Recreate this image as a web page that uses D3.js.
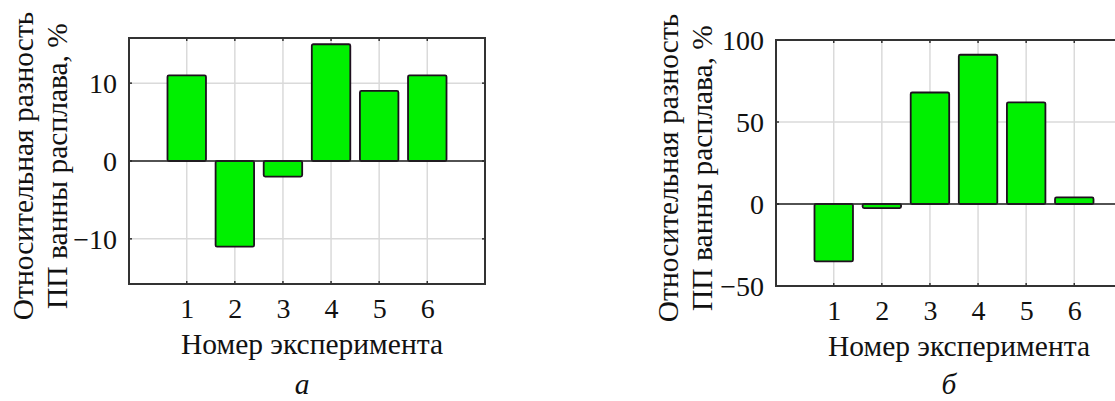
<!DOCTYPE html>
<html>
<head>
<meta charset="utf-8">
<script src="https://cdn.jsdelivr.net/npm/d3@7"></script>
<style>
  body { margin: 0; background: #fff; }
  svg text { font-family: "Liberation Serif", "DejaVu Serif", "Times New Roman", serif; }
</style>
</head>
<body>
<svg id="chart" width="1115" height="401"></svg>
<script>
"use strict";

var experiments = [1, 2, 3, 4, 5, 6];
var valuesA = [11, -11, -2, 15, 9, 11];
var valuesB = [-35, -2.5, 68, 91, 62, 4];
var ticksA = [-10, 0, 10];
var ticksB = [-50, 0, 50, 100];
var yLabelLines = ["Относительная разность", "ПП ванны расплава, %"];
var xLabel = "Номер эксперимента";
var panelLetters = ["а", "б"];

var svg = d3.select("#chart");
var tickFont = 28;
var titleFont = 29.5;

function drawPanel(opt) {
  var g = svg.append("g")
    .attr("transform", "translate(" + opt.left + "," + opt.top + ")");

  var w = opt.width, h = opt.height;

  var x = d3.scaleLinear().domain([-0.2, 7.2]).range([0, w]);
  var y = d3.scaleLinear().domain(opt.yDomain).range([h, 0]);
  var barW = x(0.8) - x(0);

  // grid
  g.append("g")
    .selectAll("line")
    .data(experiments)
    .enter()
    .append("line")
    .attr("x1", function (d) { return x(d); })
    .attr("x2", function (d) { return x(d); })
    .attr("y1", 0)
    .attr("y2", h)
    .attr("stroke", "#dadada")
    .attr("stroke-width", 1.5);

  g.append("g")
    .selectAll("line")
    .data(opt.ticks)
    .enter()
    .append("line")
    .attr("x1", 0)
    .attr("x2", w)
    .attr("y1", function (d) { return y(d); })
    .attr("y2", function (d) { return y(d); })
    .attr("stroke", "#dadada")
    .attr("stroke-width", 1.5);

  // small inner ticks on the frame
  var tk = 3;
  var tg = g.append("g").attr("stroke", "#333").attr("stroke-width", 1.5);
  experiments.forEach(function (d) {
    tg.append("line").attr("x1", x(d)).attr("x2", x(d)).attr("y1", h).attr("y2", h - tk);
    tg.append("line").attr("x1", x(d)).attr("x2", x(d)).attr("y1", 0).attr("y2", tk);
  });
  opt.ticks.forEach(function (d) {
    tg.append("line").attr("x1", 0).attr("x2", tk).attr("y1", y(d)).attr("y2", y(d));
    tg.append("line").attr("x1", w).attr("x2", w - tk).attr("y1", y(d)).attr("y2", y(d));
  });

  // bars
  g.append("g")
    .selectAll("rect")
    .data(opt.values)
    .enter()
    .append("rect")
    .attr("x", function (d, i) { return x(experiments[i]) - barW / 2; })
    .attr("width", barW)
    .attr("y", function (d) { return y(Math.max(0, d)); })
    .attr("height", function (d) { return Math.abs(y(d) - y(0)); })
    .attr("rx", 1.5)
    .attr("fill", "#00f000")
    .attr("stroke", "#1e0f1e")
    .attr("stroke-width", 1.8);

  // zero line
  g.append("line")
    .attr("x1", 0)
    .attr("x2", w)
    .attr("y1", y(0))
    .attr("y2", y(0))
    .attr("stroke", "#222")
    .attr("stroke-width", 1.6);

  // frame
  g.append("rect")
    .attr("width", w)
    .attr("height", h)
    .attr("fill", "none")
    .attr("stroke", "#333")
    .attr("stroke-width", 2);

  // axes (labels only)
  var yAxis = g.append("g")
    .call(d3.axisLeft(y).tickValues(opt.ticks).tickSize(0).tickPadding(12)
      .tickFormat(function (d) { return d < 0 ? "\u2212" + Math.abs(d) : d; }));
  var xAxis = g.append("g")
    .attr("transform", "translate(0," + h + ")")
    .call(d3.axisBottom(x).tickValues(experiments).tickSize(0).tickPadding(14)
      .tickFormat(d3.format("d")));

  [yAxis, xAxis].forEach(function (a) {
    a.select(".domain").remove();
    a.attr("font-size", null).attr("font-family", null);
    a.selectAll("text")
      .attr("font-size", tickFont)
      .attr("fill", "#111");
  });
  yAxis.selectAll("text").attr("dy", "0.34em");

  // x title
  g.append("text")
    .attr("x", x(3.5) + 5)
    .attr("y", h + 70)
    .attr("text-anchor", "middle")
    .attr("font-size", titleFont)
    .attr("fill", "#111")
    .text(xLabel);

  // y title, two lines
  yLabelLines.forEach(function (line, i) {
    g.append("text")
      .attr("transform", "translate(" + (opt.yTitleX + i * 34) + "," + (h / 2 + 5) + ") rotate(-90)")
      .attr("text-anchor", "middle")
      .attr("font-size", titleFont)
      .attr("fill", "#111")
      .text(line);
  });

  // panel letter
  svg.append("text")
    .attr("x", opt.left + x(3.5) - 5)
    .attr("y", 394)
    .attr("text-anchor", "middle")
    .attr("font-size", titleFont)
    .attr("font-style", "italic")
    .attr("fill", "#111")
    .text(opt.letter);
}

drawPanel({
  left: 129, top: 38, width: 356, height: 246,
  yDomain: [-15.8, 15.8], ticks: ticksA, values: valuesA,
  yTitleX: -96, letter: panelLetters[0]
});

drawPanel({
  left: 776, top: 40, width: 356, height: 246,
  yDomain: [-50, 100], ticks: ticksB, values: valuesB,
  yTitleX: -98, letter: panelLetters[1]
});
</script>
</body>
</html>
